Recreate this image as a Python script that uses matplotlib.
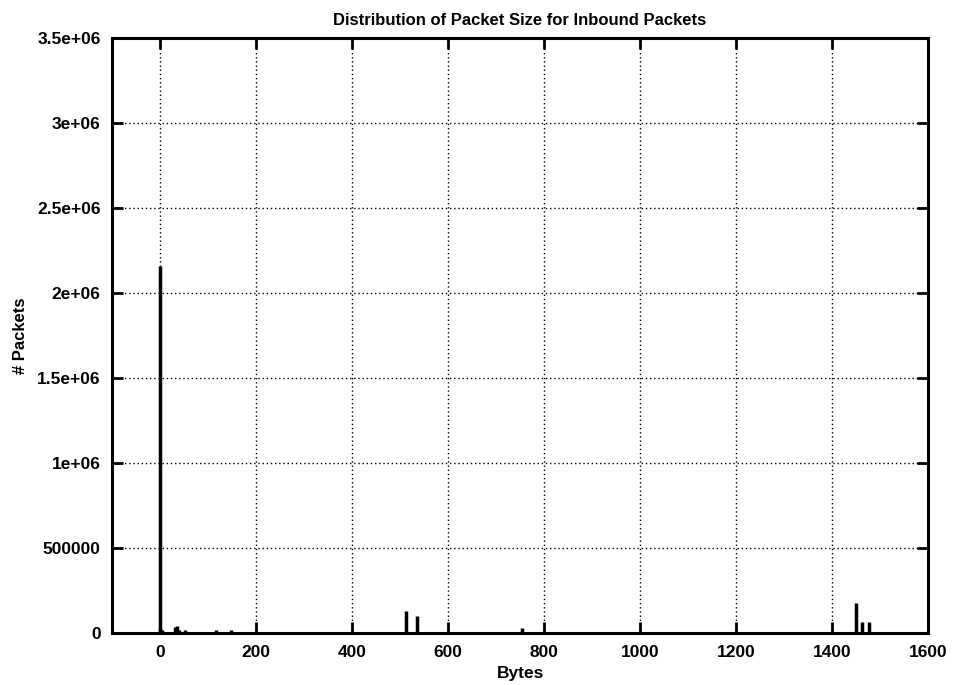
import matplotlib
matplotlib.use('Agg')
import matplotlib.pyplot as plt

# packet size (bytes) and packet counts
sizes = [0, 1, 4, 31, 36, 40, 52, 60, 116, 148, 200, 253, 340, 512, 536, 576, 755, 1400, 1450, 1462, 1476]
counts = [2160000, 30000, 15000, 35000, 40000, 20000, 15000, 8000, 15000, 18000, 6000, 6000, 8000,
          128000, 98000, 8000, 28000, 6000, 175000, 62000, 62000]

xticks = [0, 200, 400, 600, 800, 1000, 1200, 1400, 1600]
yticks = [0, 500000, 1000000, 1500000, 2000000, 2500000, 3000000, 3500000]
ylabels = ['0', '500000', '1e+06', '1.5e+06', '2e+06', '2.5e+06', '3e+06', '3.5e+06']

plt.rcParams['font.family'] = ['Liberation Sans', 'DejaVu Sans']
plt.rcParams['font.weight'] = 'bold'

fig = plt.figure(figsize=(9.56, 6.85), dpi=100)
ax = fig.add_axes([0.117, 0.076, 0.854, 0.869])

# impulses, gnuplot style
ax.vlines(sizes, 0, counts, colors='black', linewidth=2.5)

ax.set_xlim(-100, 1600)
ax.set_ylim(0, 3500000)
ax.set_xticks(xticks)
ax.set_yticks(yticks)
ax.set_yticklabels(ylabels)

ax.grid(True, color='black', linestyle=(0, (1, 2)), linewidth=1.0)
ax.tick_params(direction='in', length=8, width=2, top=True, right=True,
               labelsize=12.5)
ax.tick_params(axis='x', pad=9)
ax.tick_params(axis='y', pad=8)
for s in ax.spines.values():
    s.set_linewidth(2.2)

ax.set_title('Distribution of Packet Size for Inbound Packets', fontsize=12,
             fontweight='bold', pad=9)
ax.set_xlabel('Bytes', fontsize=12.5, fontweight='bold', labelpad=4)
ax.set_ylabel('# Packets', fontsize=12, fontweight='bold', labelpad=7)

fig.savefig('out.png', dpi=100)
